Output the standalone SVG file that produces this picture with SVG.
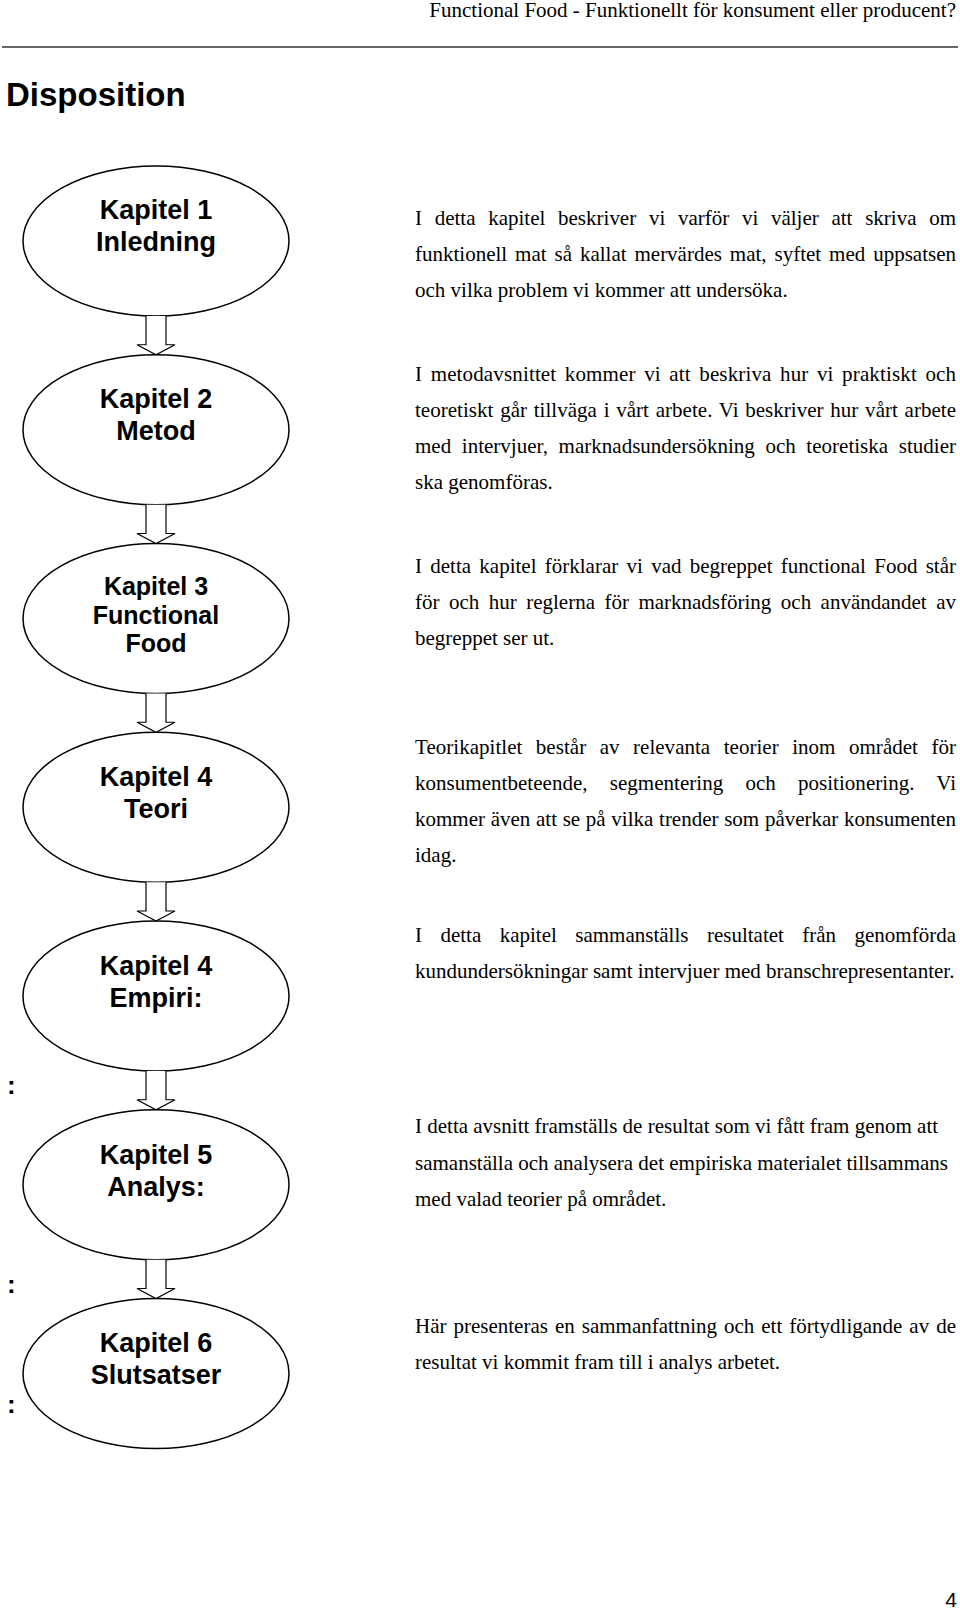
<svg xmlns="http://www.w3.org/2000/svg" width="960" height="1611" viewBox="0 0 960 1611">
<style>
.bg{fill:#fff}
.node ellipse{fill:#fff;stroke:#000;stroke-width:1.5}
.lbl{font-family:"Liberation Sans",Arial,sans-serif;font-weight:bold;font-size:27px;text-anchor:middle;fill:#000}
.lbl3{font-family:"Liberation Sans",Arial,sans-serif;font-weight:bold;font-size:25px;text-anchor:middle;fill:#000}
.body{font-family:"Liberation Serif","Times New Roman",serif;font-size:21px;fill:#000}
.arrow{fill:#fff;stroke:#000;stroke-width:1.2;stroke-linejoin:miter}
.colon{font-family:"Liberation Sans",Arial,sans-serif;font-weight:bold;font-size:26px;fill:#000}
</style>
<rect class="bg" x="0" y="0" width="960" height="1611"/>
<text class="body" x="956" y="17" text-anchor="end">Functional Food - Funktionellt för konsument eller producent?</text>
<line x1="2" y1="47" x2="958" y2="47" stroke="#666" stroke-width="2"/>
<text x="6" y="106" font-family="Liberation Sans, Arial, sans-serif" font-weight="bold" font-size="33">Disposition</text>

<g id="node1" class="node">
<ellipse cx="156" cy="241" rx="133" ry="75"/>
<text class="lbl" x="156" y="219">Kapitel 1</text>
<text class="lbl" x="156" y="251">Inledning</text>
</g>
<g id="node2" class="node">
<ellipse cx="156" cy="429.75" rx="133" ry="75"/>
<text class="lbl" x="156" y="408">Kapitel 2</text>
<text class="lbl" x="156" y="440">Metod</text>
</g>
<g id="node3" class="node">
<ellipse cx="156" cy="618.5" rx="133" ry="75"/>
<text class="lbl3" x="156" y="595">Kapitel 3</text>
<text class="lbl3" x="156" y="624">Functional</text>
<text class="lbl3" x="156" y="652">Food</text>
</g>
<g id="node4" class="node">
<ellipse cx="156" cy="807.25" rx="133" ry="75"/>
<text class="lbl" x="156" y="786">Kapitel 4</text>
<text class="lbl" x="156" y="818">Teori</text>
</g>
<g id="node5" class="node">
<ellipse cx="156" cy="996" rx="133" ry="75"/>
<text class="lbl" x="156" y="975">Kapitel 4</text>
<text class="lbl" x="156" y="1007">Empiri:</text>
</g>
<g id="node6" class="node">
<ellipse cx="156" cy="1184.75" rx="133" ry="75"/>
<text class="lbl" x="156" y="1164">Kapitel 5</text>
<text class="lbl" x="156" y="1196">Analys:</text>
</g>
<g id="node7" class="node">
<ellipse cx="156" cy="1373.5" rx="133" ry="75"/>
<text class="lbl" x="156" y="1352">Kapitel 6</text>
<text class="lbl" x="156" y="1384">Slutsatser</text>
</g>

<g id="connectors">
<path class="arrow" d="M146,316 V344.75 H137 L156,354.75 L175,344.75 H166 V316"/>
<path class="arrow" d="M146,504.75 V533.5 H137 L156,543.5 L175,533.5 H166 V504.75"/>
<path class="arrow" d="M146,693.5 V722.25 H137 L156,732.25 L175,722.25 H166 V693.5"/>
<path class="arrow" d="M146,882.25 V911 H137 L156,921 L175,911 H166 V882.25"/>
<path class="arrow" d="M146,1071 V1099.75 H137 L156,1109.75 L175,1099.75 H166 V1071"/>
<path class="arrow" d="M146,1259.75 V1288.5 H137 L156,1298.5 L175,1288.5 H166 V1259.75"/>
</g>

<g id="desc1" class="body">
<text x="415" y="225" word-spacing="7.44" textLength="541" lengthAdjust="spacing">I detta kapitel beskriver vi varför vi väljer att skriva om</text>
<text x="415" y="261" word-spacing="2.66" textLength="541" lengthAdjust="spacing">funktionell mat så kallat mervärdes mat, syftet med uppsatsen</text>
<text x="415" y="297">och vilka problem vi kommer att undersöka.</text>
</g>
<g id="desc2" class="body">
<text x="415" y="381" word-spacing="3.12" textLength="541" lengthAdjust="spacing">I metodavsnittet kommer vi att beskriva hur vi praktiskt och</text>
<text x="415" y="417" word-spacing="1.44" textLength="541" lengthAdjust="spacing">teoretiskt går tillväga i vårt arbete. Vi beskriver hur vårt arbete</text>
<text x="415" y="453" word-spacing="5.33" textLength="541" lengthAdjust="spacing">med intervjuer, marknadsundersökning och teoretiska studier</text>
<text x="415" y="489">ska genomföras.</text>
</g>
<g id="desc3" class="body">
<text x="415" y="573" word-spacing="3.02" textLength="541" lengthAdjust="spacing">I detta kapitel förklarar vi vad begreppet functional Food står</text>
<text x="415" y="609" word-spacing="4.21" textLength="541" lengthAdjust="spacing">för och hur reglerna för marknadsföring och användandet av</text>
<text x="415" y="645">begreppet ser ut.</text>
</g>
<g id="desc4" class="body">
<text x="415" y="754" word-spacing="8.22" textLength="541" lengthAdjust="spacing">Teorikapitlet består av relevanta teorier inom området för</text>
<text x="415" y="790" word-spacing="16.85" textLength="541" lengthAdjust="spacing">konsumentbeteende, segmentering och positionering. Vi</text>
<text x="415" y="826" word-spacing="0.43" textLength="541" lengthAdjust="spacing">kommer även att se på vilka trender som påverkar konsumenten</text>
<text x="415" y="862">idag.</text>
</g>
<g id="desc5" class="body">
<text x="415" y="942" word-spacing="13.18" textLength="541" lengthAdjust="spacing">I detta kapitel sammanställs resultatet från genomförda</text>
<text x="415" y="978">kundundersökningar samt intervjuer med branschrepresentanter.</text>
</g>
<g id="desc6" class="body">
<text x="415" y="1133">I detta avsnitt framställs de resultat som vi fått fram genom att</text>
<text x="415" y="1170">samanställa och analysera det empiriska materialet tillsammans</text>
<text x="415" y="1206">med valad teorier på området.</text>
</g>
<g id="desc7" class="body">
<text x="415" y="1333" word-spacing="1.75" textLength="541" lengthAdjust="spacing">Här presenteras en sammanfattning och ett förtydligande av de</text>
<text x="415" y="1369">resultat vi kommit fram till i analys arbetet.</text>
</g>

<text class="colon" x="7" y="1094">:</text>
<text class="colon" x="7" y="1293">:</text>
<text class="colon" x="7" y="1413">:</text>
<text x="957" y="1607" text-anchor="end" font-family="Liberation Sans, Arial, sans-serif" font-size="21">4</text>
</svg>
